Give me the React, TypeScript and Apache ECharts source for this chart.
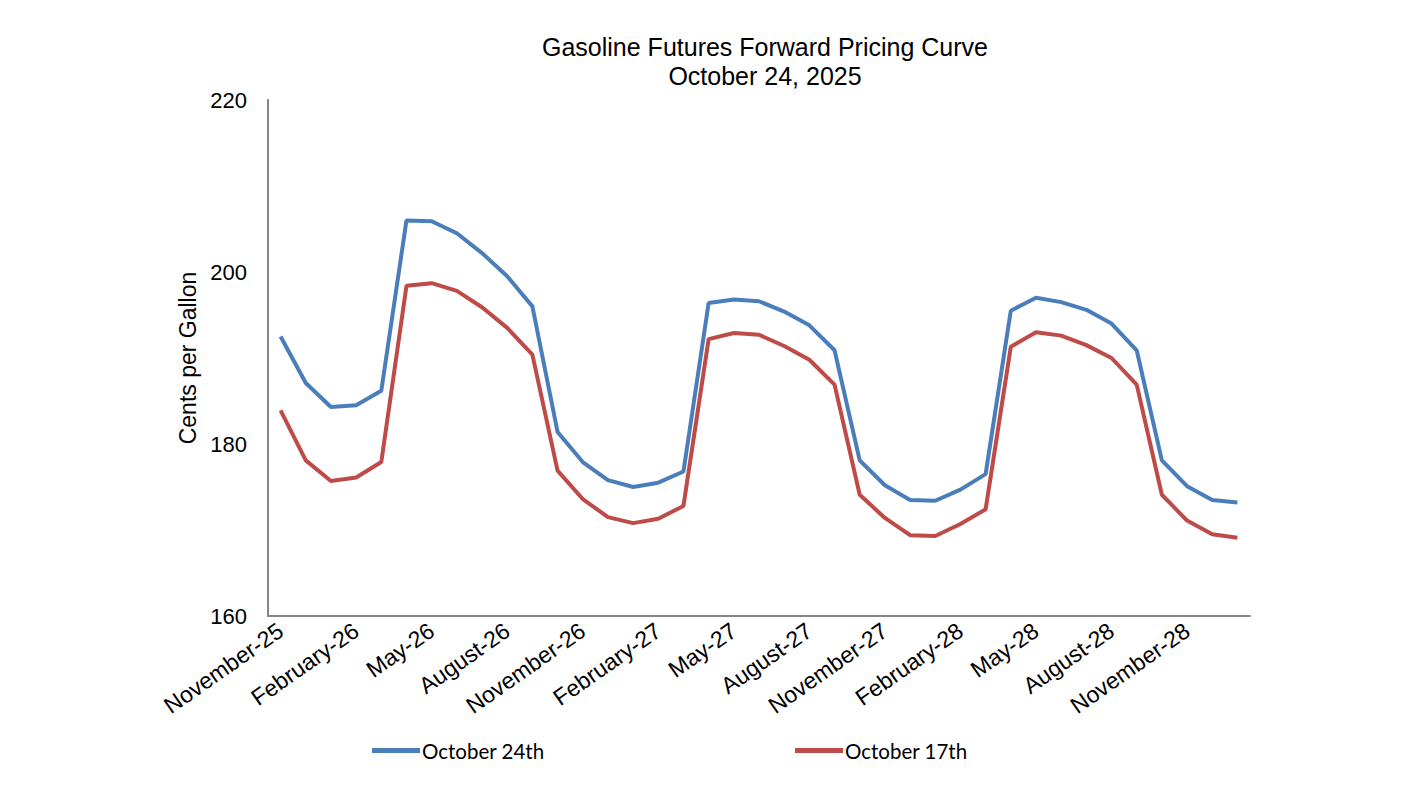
import React, { useEffect, useRef } from "react";
import * as echarts from "echarts";

const months: string[] = [
  "November-25", "December-25", "January-26", "February-26", "March-26", "April-26",
  "May-26", "June-26", "July-26", "August-26", "September-26", "October-26",
  "November-26", "December-26", "January-27", "February-27", "March-27", "April-27",
  "May-27", "June-27", "July-27", "August-27", "September-27", "October-27",
  "November-27", "December-27", "January-28", "February-28", "March-28", "April-28",
  "May-28", "June-28", "July-28", "August-28", "September-28", "October-28",
  "November-28", "December-28", "January-29",
];

const oct24: number[] = [
  192.5, 187.1, 184.3, 184.5, 186.2, 206.0, 205.9, 204.5, 202.2, 199.5, 196.0, 181.4,
  177.9, 175.8, 175.0, 175.5, 176.8, 196.4, 196.8, 196.6, 195.4, 193.8, 190.9, 178.1,
  175.2, 173.5, 173.4, 174.7, 176.5, 195.5, 197.0, 196.5, 195.6, 194.0, 190.9, 178.1,
  175.1, 173.5, 173.2,
];

const oct17: number[] = [
  183.9, 178.1, 175.7, 176.1, 177.9, 198.4, 198.7, 197.8, 195.9, 193.5, 190.4, 176.9,
  173.6, 171.5, 170.8, 171.3, 172.8, 192.2, 192.9, 192.7, 191.4, 189.8, 186.9, 174.1,
  171.4, 169.4, 169.3, 170.7, 172.4, 191.3, 193.0, 192.6, 191.5, 190.0, 186.9, 174.1,
  171.1, 169.5, 169.1,
];

const yTicks = { min: 160, max: 220, interval: 20 };

const BLUE = "#4A7EBB";
const RED = "#BE4B48";
const FONT = "'Liberation Sans', Arial, sans-serif";
const LEGEND_FONT = "Lato, 'Open Sans', sans-serif";

export default function App() {
  const ref = useRef<HTMLDivElement>(null);
  useEffect(() => {
    document.body.style.margin = "0";
    const chart = echarts.init(ref.current!, null, { renderer: "svg" });
    const legendCommon = {
      top: 735,
      icon: "rect",
      itemWidth: 48,
      itemHeight: 5,
      itemGap: 3,
      textStyle: { fontFamily: LEGEND_FONT, fontSize: 20.5, color: "#000", padding: [0, 0, 0, -3] },
    };
    chart.setOption({
      animation: false,
      backgroundColor: "#ffffff",
      title: {
        text: "Gasoline Futures Forward Pricing Curve\nOctober 24, 2025",
        left: 760,
        top: 27,
        textAlign: "center",
        textStyle: {
          fontFamily: FONT,
          fontSize: 25,
          fontWeight: "normal",
          color: "#000",
          lineHeight: 29,
        },
      },
      legend: [
        { ...legendCommon, data: ["October 24th"], left: 367 },
        { ...legendCommon, data: ["October 17th"], left: 790 },
      ],
      grid: { left: 268, right: 151, top: 100, bottom: 188, containLabel: false },
      xAxis: {
        type: "category",
        data: months,
        boundaryGap: true,
        axisLine: { show: true, lineStyle: { color: "#868686", width: 2 } },
        axisTick: { show: false },
        axisLabel: {
          interval: 2,
          rotate: 35,
          margin: 12,
          fontFamily: FONT,
          fontSize: 23,
          color: "#000",
        },
        splitLine: { show: false },
      },
      yAxis: {
        type: "value",
        min: yTicks.min,
        max: yTicks.max,
        interval: yTicks.interval,
        name: "Cents per Gallon",
        nameLocation: "middle",
        nameRotate: 90,
        nameGap: 66,
        nameTextStyle: { fontFamily: FONT, fontSize: 23, color: "#000" },
        axisLine: { show: true, lineStyle: { color: "#868686", width: 2 } },
        axisTick: { show: false },
        splitLine: { show: false },
        axisLabel: { fontFamily: FONT, fontSize: 22, color: "#000", margin: 21 },
      },
      series: [
        {
          name: "October 24th",
          type: "line",
          data: oct24,
          symbol: "none",
          lineStyle: { color: BLUE, width: 4 },
          itemStyle: { color: BLUE },
        },
        {
          name: "October 17th",
          type: "line",
          data: oct17,
          symbol: "none",
          lineStyle: { color: RED, width: 4 },
          itemStyle: { color: RED },
        },
      ],
    });
    return () => chart.dispose();
  }, []);
  return <div ref={ref} style={{ width: 1401, height: 804 }} />;
}
